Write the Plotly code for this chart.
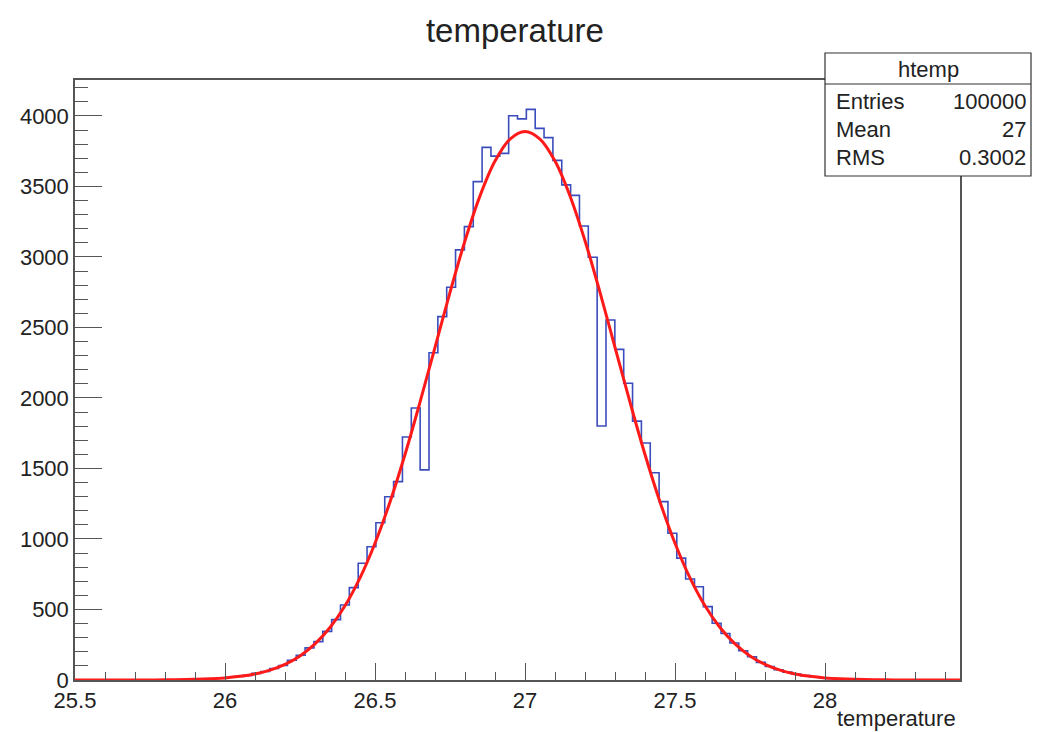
import numpy as np
import plotly.graph_objects as go

# ---------------- data ----------------
bin_low = 25.5
bin_width = 0.0295
counts = [
    0, 0, 0, 0, 0, 0, 0, 0, 0, 1,
    1, 2, 3, 4, 6, 9, 14, 19, 25, 33,
    47, 60, 82, 103, 140, 175, 228, 272, 345, 428,
    532, 655, 828, 945, 1115, 1300, 1407, 1723, 1929, 1490,
    2321, 2577, 2785, 3050, 3215, 3534, 3777, 3715, 3735, 4002,
    3979, 4047, 3912, 3846, 3685, 3511, 3437, 3220, 2998, 1801,
    2553, 2345, 2104, 1836, 1681, 1470, 1265, 1041, 864, 716,
    661, 520, 402, 330, 262, 207, 165, 125, 96, 73,
    56, 42, 31, 23, 16, 11, 8, 5, 4, 2,
    2, 1, 1, 0, 0, 0, 0, 0, 0, 0,
]
fit_x = [25.5, 25.7, 25.8, 25.9, 25.95, 26.0, 26.05, 26.1, 26.15, 26.2, 26.25, 26.3,
         26.35, 26.4, 26.45, 26.5, 26.55, 26.6, 26.65, 26.7, 26.75, 26.8, 26.85,
         26.9, 26.95, 27.0, 27.05, 27.1, 27.15, 27.2, 27.25, 27.3, 27.35, 27.4,
         27.45, 27.5, 27.55, 27.6, 27.65, 27.7, 27.75, 27.8, 27.85, 27.9, 27.95,
         28.0, 28.05, 28.1, 28.2, 28.3, 28.45]
fit_y = [0, 0, 1, 5, 8.5, 15, 26, 43, 70, 111, 171, 256,
         372, 526, 724, 970, 1263, 1599, 1970, 2359, 2749, 3115, 3433,
         3680, 3836, 3890, 3836, 3680, 3433, 3115, 2749, 2359, 1970, 1599,
         1263, 970, 724, 526, 372, 256, 171, 111, 70, 43, 26,
         15, 8.5, 5, 1, 0, 0]
x_tick_vals = [25.5, 26, 26.5, 27, 27.5, 28]
x_tick_text = ["25.5", "26", "26.5", "27", "27.5", "28"]
y_tick_vals = [0, 500, 1000, 1500, 2000, 2500, 3000, 3500, 4000]
y_tick_text = ["0", "500", "1000", "1500", "2000", "2500", "3000", "3500", "4000"]
stats_title = "htemp"
stats_labels = ["Entries", "Mean", "RMS"]
stats_values = ["100000", "27", "0.3002"]

# ---------------- figure ----------------
edges = [bin_low + i * bin_width for i in range(len(counts) + 1)]
hx = edges
hy = counts + [counts[-1]]

FONT = "Liberation Sans, Arial, Helvetica, sans-serif"
AXC = "#555555"
TXT = "#222222"

fig = go.Figure()
fig.add_trace(go.Scatter(x=hx, y=hy, mode="lines", line=dict(shape="hv", color="#3b4dbd", width=1.6),
                         hoverinfo="skip", showlegend=False))
fig.add_trace(go.Scatter(x=fit_x, y=fit_y, mode="lines", line=dict(shape="spline", color="#ff1a1a", width=3),
                         hoverinfo="skip", showlegend=False))

fig.update_layout(
    width=1024, height=724,
    margin=dict(l=67, r=72, t=72, b=52),
    paper_bgcolor="white", plot_bgcolor="white",
    font=dict(family=FONT, size=22, color=TXT),
    title=dict(text="temperature", x=0.495, xanchor="center", y=0.9696, yanchor="middle",
               font=dict(size=33, family=FONT, color=TXT)),
    xaxis=dict(range=[25.5, 28.45], showgrid=False, zeroline=False,
               showline=True, linecolor=AXC, linewidth=1.5, mirror=True,
               tickmode="array", tickvals=x_tick_vals, ticktext=x_tick_text,
               ticks="inside", ticklen=17, tickwidth=1.2, tickcolor=AXC,
               minor=dict(dtick=0.1, tick0=25.5, ticks="inside", ticklen=8, tickcolor=AXC, tickwidth=1.2, showgrid=False),
               tickfont=dict(size=22, family=FONT, color=TXT)),
    yaxis=dict(range=[0, 4255], showgrid=False, zeroline=False,
               showline=True, linecolor=AXC, linewidth=1.5, mirror=True,
               tickmode="array", tickvals=y_tick_vals, ticktext=y_tick_text,
               ticks="inside", ticklen=27, tickwidth=1.2, tickcolor=AXC,
               minor=dict(dtick=100, tick0=0, ticks="inside", ticklen=13, tickcolor=AXC, tickwidth=1.2, showgrid=False),
               tickfont=dict(size=22, family=FONT, color=TXT)),
)

# plot-area based paper coordinates (reference pixels; plot area 75..960 x 80..680)
pw, ph = 885.0, 600.0
def px(xp):
    return (xp - 75) / pw
def py(yp):
    return (680 - yp) / ph

# x-axis title at bottom right
fig.add_annotation(text="temperature", xref="paper", yref="paper", x=px(958), y=py(718),
                   xanchor="right", yanchor="middle", showarrow=False,
                   font=dict(size=22, family=FONT, color=TXT))

# stats box
bx0, bx1, by0, by1, bh = px(825), px(1031), py(176), py(53), py(84)
fig.add_shape(type="rect", xref="paper", yref="paper", x0=bx0, x1=bx1, y0=by0, y1=by1,
              line=dict(color="#333333", width=1.2), fillcolor="white", layer="above")
fig.add_shape(type="line", xref="paper", yref="paper", x0=bx0, x1=bx1, y0=bh, y1=bh,
              line=dict(color="#333333", width=1.2), layer="above")
fig.add_annotation(text=stats_title, xref="paper", yref="paper", x=(bx0 + bx1) / 2, y=py(69),
                   xanchor="center", yanchor="middle", showarrow=False,
                   font=dict(size=22, family=FONT, color=TXT))
row_y = [101, 129, 157]
for lab, val, ry in zip(stats_labels, stats_values, row_y):
    fig.add_annotation(text=lab, xref="paper", yref="paper", x=px(834), y=py(ry),
                       xanchor="left", yanchor="middle", showarrow=False,
                       font=dict(size=22, family=FONT, color=TXT))
    fig.add_annotation(text=val, xref="paper", yref="paper", x=px(1028), y=py(ry),
                       xanchor="right", yanchor="middle", showarrow=False,
                       font=dict(size=22, family=FONT, color=TXT))

fig.write_html("out.html")
